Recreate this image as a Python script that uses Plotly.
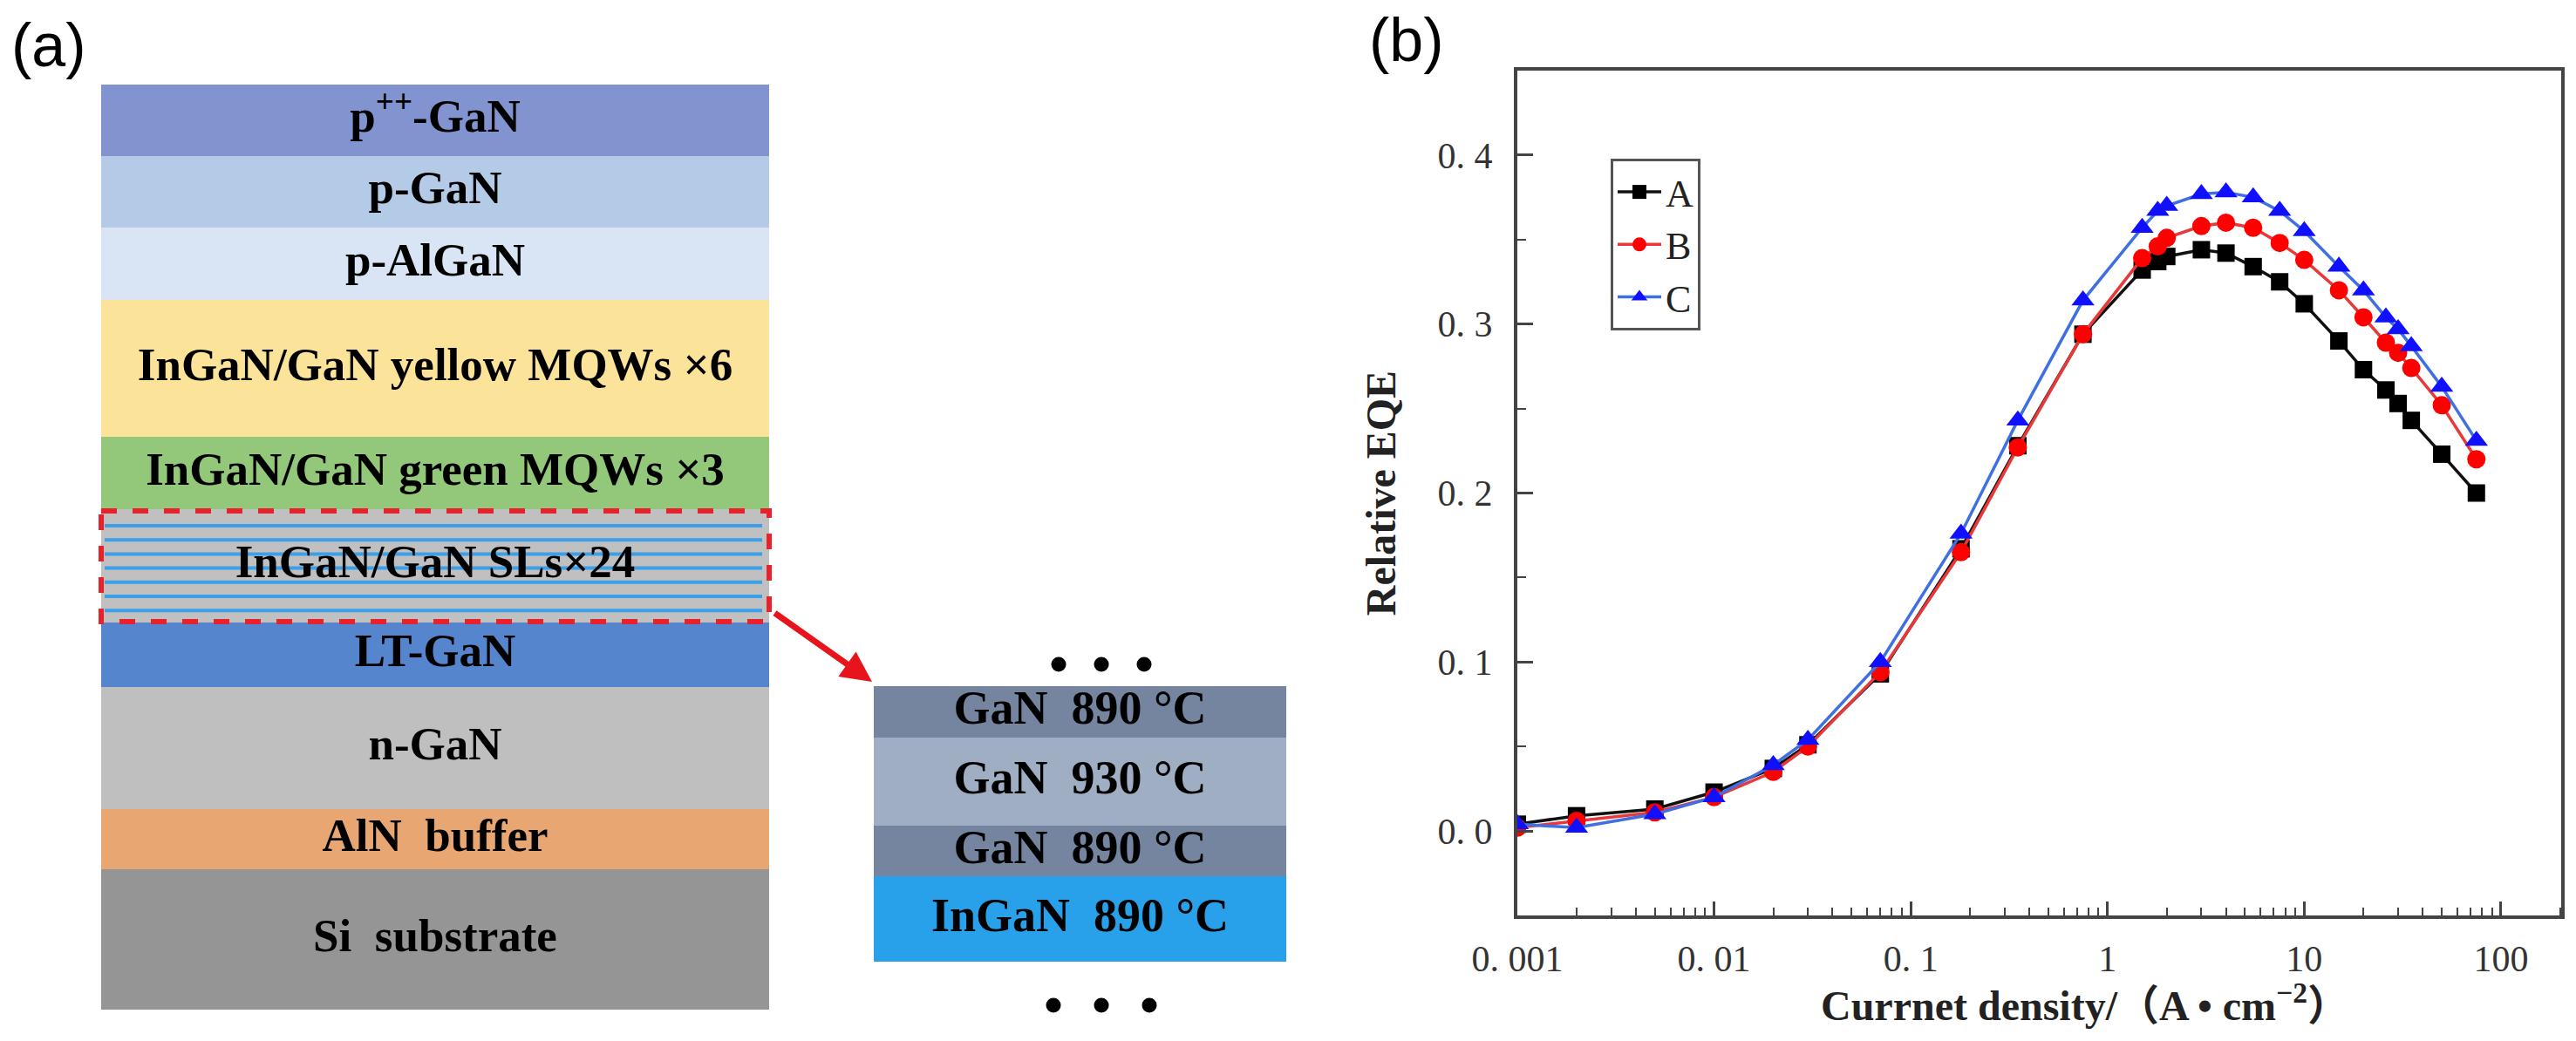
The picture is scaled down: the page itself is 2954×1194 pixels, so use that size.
import plotly.graph_objects as go

W, H = 2954, 1194
PAD = 8                       # page body margin around the figure
FW, FH = W - 2 * PAD, H - 2 * PAD

# ---- (b) EQE data ----
current = [0.001, 0.002, 0.005, 0.01, 0.02, 0.03, 0.07, 0.18, 0.35, 0.75, 1.5, 1.8, 2.0,
           3, 4, 5.5, 7.5, 10, 15, 20, 26, 30, 35, 50, 75]
eqe_a = [0.004, 0.009, 0.013, 0.023, 0.037, 0.051, 0.093, 0.167, 0.228, 0.294, 0.332, 0.337, 0.340,
         0.344, 0.342, 0.334, 0.325, 0.312, 0.290, 0.273, 0.261, 0.253, 0.243, 0.223, 0.200]
eqe_b = [0.002, 0.006, 0.011, 0.020, 0.035, 0.050, 0.094, 0.165, 0.227, 0.294, 0.339, 0.346, 0.351,
         0.358, 0.360, 0.357, 0.348, 0.338, 0.320, 0.304, 0.289, 0.283, 0.274, 0.252, 0.220]
eqe_c = [0.004, 0.002, 0.010, 0.020, 0.039, 0.054, 0.100, 0.176, 0.243, 0.314, 0.357, 0.367, 0.370,
         0.377, 0.378, 0.375, 0.367, 0.355, 0.334, 0.320, 0.304, 0.297, 0.287, 0.263, 0.231]

x_tickvals = [0.001, 0.01, 0.1, 1, 10, 100]
x_ticktext = ["0. 001", "0. 01", "0. 1", "1", "10", "100"]
y_tickvals = [0, 0.1, 0.2, 0.3, 0.4]
y_ticktext = ["0. 0", "0. 1", "0. 2", "0. 3", "0. 4"]

# ---- (a) layer stack (top to bottom, thickness in drawing units) ----
layer_names = ["p<sup>++</sup>-GaN", "p-GaN", "p-AlGaN", "InGaN/GaN yellow MQWs ×6",
               "InGaN/GaN green MQWs ×3", "InGaN/GaN SLs×24", "LT-GaN", "n-GaN",
               "AlN  buffer", "Si  substrate"]
layer_heights = [82, 82, 83, 157, 83, 130, 74, 140, 69, 161]
layer_colors = ["#8294d0", "#b4cbe8", "#d9e5f4", "#fbe39a", "#93c87a",
                "#c0c0c0", "#5585cc", "#bfbfbf", "#e8a673", "#959595"]

detail_names = ["GaN  890 °C", "GaN  930 °C", "GaN  890 °C", "InGaN  890 °C"]
detail_heights = [59, 101, 58, 98]
detail_colors = ["#7585a0", "#a0aec4", "#7585a0", "#28a0ea"]

stack_top, stack_x, stack_w = 97, 499, 766
detail_top, detail_x, detail_w = 787, 1238.5, 473
sl_index = 5


def tops(top, heights):
    out, y = [], top
    for h in heights:
        out.append(y)
        y += h
    return out


def px(x):
    return (x - PAD) / FW


def py(y):
    return (H - PAD - y) / FH


layer_tops = tops(stack_top, layer_heights)
detail_tops = tops(detail_top, detail_heights)
serif = "Liberation Serif, Noto Sans CJK SC"

fig = go.Figure()

# layer stack
fig.add_trace(go.Bar(x=[stack_x] * len(layer_names), y=layer_heights, base=layer_tops,
                     width=stack_w, marker=dict(color=layer_colors, line_width=0),
                     xaxis="x2", yaxis="y2", showlegend=False, hoverinfo="skip"))
fig.add_trace(go.Bar(x=[detail_x] * len(detail_names), y=detail_heights, base=detail_tops,
                     width=detail_w, marker=dict(color=detail_colors, line_width=0),
                     xaxis="x2", yaxis="y2", showlegend=False, hoverinfo="skip"))

# superlattice stripes
sl_top = layer_tops[sl_index]
sx, sy = [], []
for k in range(7):
    yy = sl_top + 19 + 16.2 * k
    sx += [stack_x - stack_w / 2 + 4, stack_x + stack_w / 2 - 8, None]
    sy += [yy, yy, None]
fig.add_trace(go.Scatter(x=sx, y=sy, mode="lines", line=dict(color="#3ba0e8", width=4),
                         xaxis="x2", yaxis="y2", showlegend=False, hoverinfo="skip"))

# layer labels
fig.add_trace(go.Scatter(
    x=[stack_x] * len(layer_names),
    y=[t + h / 2 for t, h in zip(layer_tops, layer_heights)],
    mode="text", text=layer_names,
    textfont=dict(family=serif, size=53, color="black", weight="bold"),
    xaxis="x2", yaxis="y2", showlegend=False, hoverinfo="skip"))
fig.add_trace(go.Scatter(
    x=[detail_x] * len(detail_names),
    y=[t + h / 2 for t, h in zip(detail_tops, detail_heights)],
    mode="text", text=detail_names,
    textfont=dict(family=serif, size=54, color="black", weight="bold"),
    xaxis="x2", yaxis="y2", showlegend=False, hoverinfo="skip"))

# ellipsis dots above / below the detail box
fig.add_trace(go.Scatter(
    x=[1214, 1263, 1312, 1208, 1263, 1318],
    y=[762, 762, 762, 1153, 1153, 1153],
    mode="markers", marker=dict(color="black", size=17),
    xaxis="x2", yaxis="y2", showlegend=False, hoverinfo="skip"))

# ---- EQE curves ----
series = [("A", eqe_a, "#111111", "#000000", "square", 20),
          ("B", eqe_b, "#e8383a", "#ff0000", "circle", 21),
          ("C", eqe_c, "#3f6fe0", "#1010ff", "triangle-up", 23)]
for name, vals, lc, mc, sym, ms in series:
    fig.add_trace(go.Scatter(x=current, y=vals, name=name, mode="lines+markers",
                             line=dict(color=lc, width=3.5),
                             marker=dict(color=mc, symbol=sym, size=ms)))

axis_col = "#444444"
fig.update_layout(
    width=FW, height=FH,
    margin=dict(l=0, r=0, t=0, b=0, pad=0, autoexpand=False),
    paper_bgcolor="white", plot_bgcolor="rgba(0,0,0,0)",
    barmode="overlay",
    xaxis=dict(type="log", domain=[px(1740), px(2937)], range=[-3, 2.306], anchor="y",
               tickmode="array", tickvals=x_tickvals, ticktext=x_ticktext,
               ticks="inside", ticklen=16, tickwidth=3, tickcolor=axis_col,
               showline=True, linecolor=axis_col, linewidth=4, mirror=True,
               showgrid=False, zeroline=False, ticklabelstandoff=10, automargin=False,
               tickfont=dict(family=serif, size=42, color="#333333"),
               minor=dict(tickmode="array",
                          tickvals=[m * 10 ** e for e in range(-3, 3) for m in range(2, 10)],
                          ticks="inside", ticklen=9, tickwidth=2, tickcolor=axis_col, showgrid=False)),
    yaxis=dict(domain=[py(1050), py(81)], range=[-0.05, 0.45], anchor="x",
               tickmode="array", tickvals=y_tickvals, ticktext=y_ticktext,
               ticks="inside", ticklen=18, tickwidth=3, tickcolor=axis_col,
               showline=True, linecolor=axis_col, linewidth=4, mirror=True,
               showgrid=False, zeroline=False, ticklabelstandoff=16, automargin=False,
               tickfont=dict(family=serif, size=42, color="#333333"),
               minor=dict(tickmode="array", tickvals=[0.05, 0.15, 0.25, 0.35],
                          ticks="inside", ticklen=10, tickwidth=2, tickcolor=axis_col, showgrid=False),
               title=dict(text="Relative EQE", standoff=34,
                          font=dict(family=serif, size=48, color="#222222", weight="bold"))),
    xaxis2=dict(domain=[0, 1], range=[PAD, W - PAD], anchor="y2", visible=False, automargin=False),
    yaxis2=dict(domain=[0, 1], range=[H - PAD, PAD], anchor="x2", visible=False, automargin=False),
    legend=dict(x=px(1847), y=py(182), xanchor="left", yanchor="top",
                bgcolor="white", bordercolor="#555555", borderwidth=3, itemwidth=50,
                font=dict(family=serif, size=44, color="#222222")),
    shapes=[dict(type="rect", xref="x2", yref="y2", x0=116, x1=882,
                 y0=sl_top + 2, y1=sl_top + layer_heights[sl_index] - 1,
                 line=dict(color="#e8212a", width=6, dash="dash"))],
    annotations=[
        dict(text="(a)", x=px(56), y=py(52), xref="paper", yref="paper", showarrow=False,
             xanchor="center", yanchor="middle",
             font=dict(family="Liberation Sans", size=70, color="black")),
        dict(text="(b)", x=px(1613), y=py(46), xref="paper", yref="paper", showarrow=False,
             xanchor="center", yanchor="middle",
             font=dict(family="Liberation Sans", size=70, color="black")),
        dict(text="Currnet density/（A • cm<sup>−2</sup>）", x=px(2391), y=py(1150),
             xref="paper", yref="paper", showarrow=False, xanchor="center", yanchor="middle",
             font=dict(family=serif, size=48, color="#222222", weight="bold")),
        dict(text="", xref="x2", yref="y2", x=1000, y=782, axref="x2", ayref="y2",
             ax=887, ay=702, showarrow=True, arrowhead=2, arrowsize=1, arrowwidth=7,
             arrowcolor="#e8141b"),
    ],
)

fig.write_html("out.html")
